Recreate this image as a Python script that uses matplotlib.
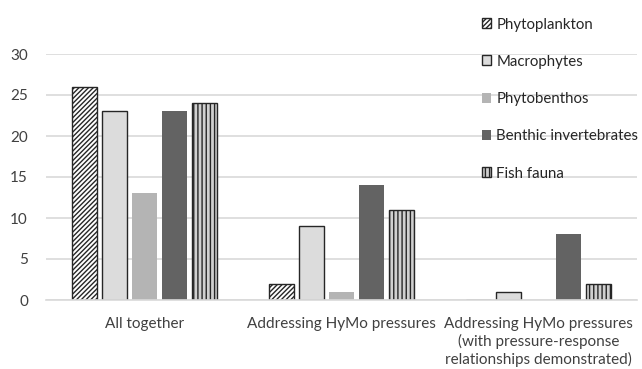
import matplotlib
matplotlib.use("Agg")
import matplotlib.pyplot as plt
import numpy as np
from matplotlib.patches import Patch

plt.rcParams['font.family'] = ['Lato', 'DejaVu Sans']
plt.rcParams['hatch.linewidth'] = 1.0

categories = ["All together", "Addressing HyMo pressures",
              "Addressing HyMo pressures\n(with pressure-response\nrelationships demonstrated)"]
series_names = ["Phytoplankton", "Macrophytes", "Phytobenthos", "Benthic invertebrates", "Fish fauna"]
phytoplankton = [26, 2, 0]
macrophytes = [23, 9, 1]
phytobenthos = [13, 1, 0]
benthic = [23, 14, 8]
fish = [24, 11, 2]
values = [phytoplankton, macrophytes, phytobenthos, benthic, fish]
yticks = [0, 5, 10, 15, 20, 25, 30]

styles = [
    dict(facecolor='white', edgecolor='#262626', hatch='///////', linewidth=1.0),
    dict(facecolor='#dcdcdc', edgecolor='#262626', linewidth=1.0),
    dict(facecolor='#b4b4b4', edgecolor='none'),
    dict(facecolor='#636363', edgecolor='none'),
    dict(facecolor='#d0d0d0', edgecolor='#262626', hatch='||||', linewidth=1.0),
]

fig = plt.figure(figsize=(6.42, 3.69), dpi=100)
ax = fig.add_axes([46/642, 1-300/369, (637-46)/642, (300-54)/369])

x = np.arange(len(categories))
slot = 30/197
width = 25/197
for i, (vals, st) in enumerate(zip(values, styles)):
    ax.bar(x + (i - 2) * slot, vals, width=width, zorder=3, **st)

ax.set_xlim(-0.5, 2.5)
ax.set_ylim(0, 30)
ax.set_yticks(yticks)
ax.yaxis.grid(True, color='#d9d9d9', linewidth=1.2, zorder=0)
ax.set_axisbelow(True)
for s in ['top', 'right', 'left']:
    ax.spines[s].set_visible(False)
ax.spines['bottom'].set_color('#d9d9d9')
ax.spines['bottom'].set_linewidth(1.2)
ax.spines['bottom'].set_zorder(4)
ax.tick_params(axis='both', length=0, labelcolor='#404040')
ax.tick_params(axis='y', pad=13, labelsize=11)
ax.tick_params(axis='x', pad=12, labelsize=11)
ax.set_xticks(x)
ax.set_xticklabels(categories, va='top', linespacing=1.25)

handles = [Patch(label=n, **st) for n, st in zip(series_names, styles)]
leg = fig.legend(handles=handles, loc='upper left', bbox_to_anchor=(468/642, 1-4/369),
                 frameon=False, fontsize=10.8, labelspacing=1.55, handlelength=0.65,
                 handleheight=0.65, handletextpad=0.35, labelcolor='#262626')

fig.savefig("out.png", dpi=100)
